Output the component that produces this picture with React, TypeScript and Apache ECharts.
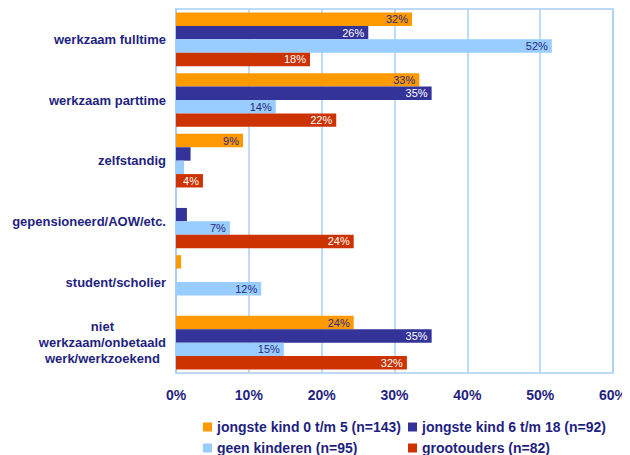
import React, { useEffect, useRef } from 'react';
import * as echarts from 'echarts';

const categories = [
  'werkzaam fulltime',
  'werkzaam parttime',
  'zelfstandig',
  'gepensioneerd/AOW/etc.',
  'student/scholier',
  'niet\nwerkzaam/onbetaald\nwerk/werkzoekend',
];
const seriesNames = [
  'jongste kind 0 t/m 5 (n=143)',
  'jongste kind 6 t/m 18 (n=92)',
  'geen kinderen (n=95)',
  'grootouders (n=82)',
];
const jongste0tm5 = [32.4, 33.4, 9.2, 0, 0.7, 24.4];
const jongste6tm18 = [26.4, 35.1, 2.0, 1.5, 0, 35.1];
const geenKinderen = [51.6, 13.7, 1.1, 7.4, 11.7, 14.8];
const grootouders = [18.4, 22.0, 3.7, 24.4, 0, 31.7];
const xMin = 0;
const xMax = 60;
const xInterval = 10;

const NAVY = '#1F1F80';
const FONT = 'Liberation Sans, Arial, sans-serif';
const colors = ['#FF9900', '#333399', '#99CCFF', '#CC3300'];
const labelColors = ['#2a2a80', '#ffffff', '#2a2a80', '#ffffff'];
const seriesData = [jongste0tm5, jongste6tm18, geenKinderen, grootouders];

const legendCommon = {
  orient: 'vertical',
  top: 412,
  height: 60,
  icon: 'rect',
  itemWidth: 9,
  itemHeight: 9,
  itemGap: 7,
  padding: 0,
  textStyle: { color: NAVY, fontWeight: 'bold', fontSize: 14, fontFamily: FONT, lineHeight: 14 },
};

export default function App() {
  const ref = useRef<HTMLDivElement>(null);
  useEffect(() => {
    if (!ref.current) return;
    const chart = echarts.init(ref.current, undefined, { renderer: 'svg' });
    chart.setOption({
      animation: false,
      backgroundColor: '#ffffff',
      grid: {
        left: 168,
        right: 5,
        top: 1,
        bottom: 82,
        show: true,
        borderColor: '#A8D0F5',
        borderWidth: 1.5,
      },
      legend: [
        { ...legendCommon, data: [seriesNames[0], seriesNames[2]], left: 195 },
        { ...legendCommon, data: [seriesNames[1], seriesNames[3]], left: 400 },
      ],
      xAxis: {
        type: 'value',
        min: xMin,
        max: xMax,
        interval: xInterval,
        axisLine: { show: false },
        axisTick: { show: false },
        splitLine: { show: true, lineStyle: { color: '#A8D0F5', width: 1.5 } },
        axisLabel: {
          formatter: (v: number) => v + '%',
          color: NAVY,
          fontWeight: 'bold',
          fontSize: 14,
          fontFamily: FONT,
          margin: 15,
        },
      },
      yAxis: {
        type: 'category',
        inverse: true,
        data: categories,
        axisLine: { show: true, lineStyle: { color: '#A8D0F5', width: 1.5 } },
        axisTick: { show: false },
        splitLine: { show: false },
        axisLabel: {
          color: NAVY,
          fontWeight: 'bold',
          fontSize: 13,
          fontFamily: FONT,
          margin: 10,
          formatter: (v: string) =>
            v.indexOf('\n') >= 0
              ? v
                  .split('\n')
                  .map((l) => '{c|' + l + '}')
                  .join('\n')
              : v,
          rich: {
            c: {
              align: 'center',
              color: NAVY,
              fontWeight: 'bold',
              fontSize: 13,
              fontFamily: FONT,
              lineHeight: 16,
            },
          },
        },
      },
      series: seriesNames.map((name, i) => ({
        name,
        type: 'bar',
        data: seriesData[i],
        barWidth: 13.4,
        barGap: '0%',
        itemStyle: { color: colors[i] },
        label: {
          show: true,
          position: 'insideRight',
          distance: 4,
          color: labelColors[i],
          fontSize: 11,
          fontFamily: FONT,
          formatter: (p: any) => (p.value >= 3 ? Math.round(p.value) + '%' : ''),
        },
      })),
    });
    return () => chart.dispose();
  }, []);
  return <div ref={ref} style={{ width: 622, height: 447 }} />;
}
